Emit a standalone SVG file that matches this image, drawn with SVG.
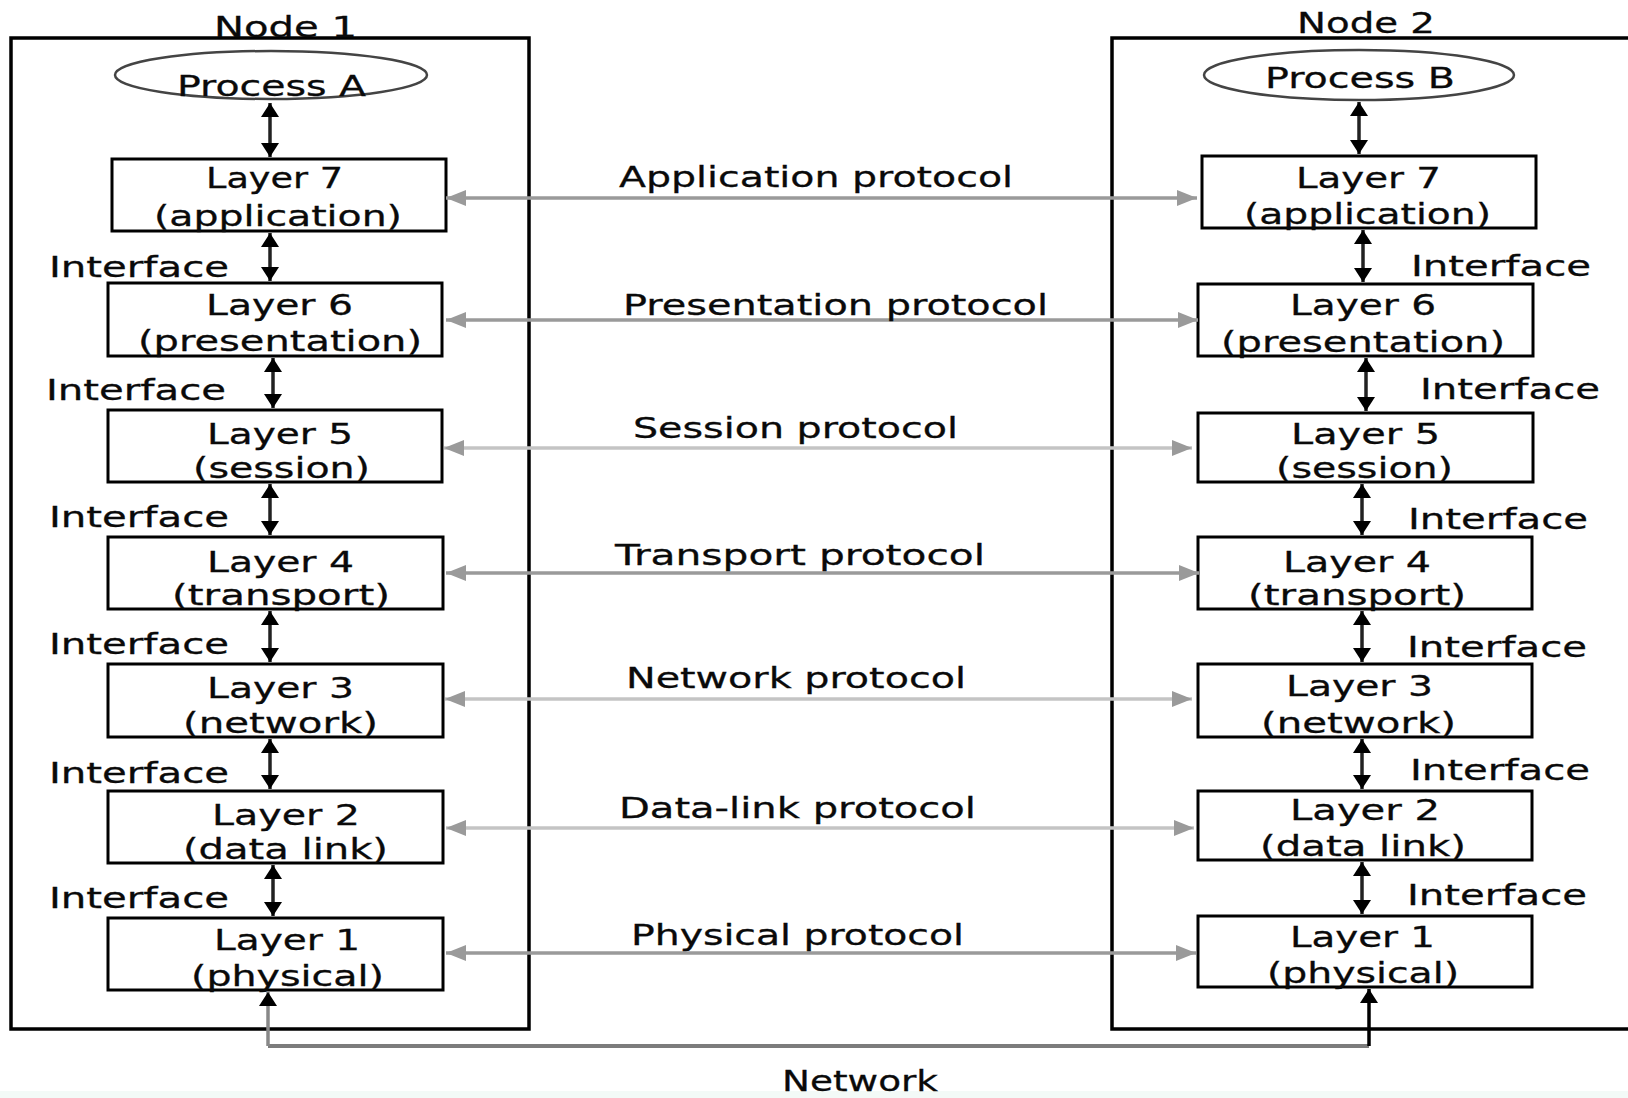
<svg xmlns="http://www.w3.org/2000/svg" width="1628" height="1098" viewBox="0 0 1628 1098">
  <style>
    text { font-family: "DejaVu Sans", Verdana, sans-serif; font-size: 29px; fill: #0a0a0a; stroke: #0a0a0a; stroke-width: 0.3; }
    .node { fill: none; stroke: #000; stroke-width: 3.5; }
    .layer { fill: #fff; stroke: #000; stroke-width: 3; }
    .proc { fill: #fff; stroke: #444; stroke-width: 2.5; }
    .iface { stroke: #222; stroke-width: 3.5; fill: none; marker-start: url(#blackHead); marker-end: url(#blackHead); }
    .proto { stroke: #9a9a9a; stroke-width: 3.5; fill: none; marker-start: url(#grayHead); marker-end: url(#grayHead); }
    .light { stroke: #c4c4c4; }
    .net { stroke: #7c7c7c; stroke-width: 4; fill: none; }
  </style>
  <defs>
    <marker id="blackHead" markerUnits="userSpaceOnUse" viewBox="0 0 14 18" markerWidth="14" markerHeight="18" refX="14" refY="9" orient="auto-start-reverse">
      <path d="M0,0 L14,9 L0,18 z" fill="#000"/>
    </marker>
    <marker id="grayHead" markerUnits="userSpaceOnUse" viewBox="0 0 20 16" markerWidth="20" markerHeight="16" refX="20" refY="8" orient="auto-start-reverse">
      <path d="M0,0 L20,8 L0,16 z" fill="#9a9a9a"/>
    </marker>
    <marker id="upHead" markerUnits="userSpaceOnUse" viewBox="0 0 14 18" markerWidth="14" markerHeight="18" refX="14" refY="9" orient="auto">
      <path d="M0,0 L14,9 L0,18 z" fill="#000"/>
    </marker>
  </defs>

  <rect x="0" y="0" width="1628" height="1098" fill="#fff"/>
  <rect x="0" y="1091" width="1628" height="7" fill="#f3faf7"/>

  <!-- Host containers -->
  <g id="node1">
    <rect class="node" x="11" y="38" width="518" height="991"/>
    <text x="214" y="37" textLength="143" lengthAdjust="spacingAndGlyphs">Node 1</text>
  </g>
  <g id="node2">
    <rect class="node" x="1112" y="38" width="540" height="991"/>
    <text x="1297" y="33" textLength="138" lengthAdjust="spacingAndGlyphs">Node 2</text>
  </g>

  <!-- Processes -->
  <g id="processA">
    <ellipse class="proc" cx="271" cy="75" rx="156" ry="24"/>
    <text x="177" y="96" textLength="189" lengthAdjust="spacingAndGlyphs">Process A</text>
  </g>
  <g id="processB">
    <ellipse class="proc" cx="1359" cy="75" rx="155" ry="25"/>
    <text x="1265" y="88" textLength="190" lengthAdjust="spacingAndGlyphs">Process B</text>
  </g>

  <!-- Node 1 stack -->
  <g id="n1-layer7">
    <rect class="layer" x="112" y="159" width="334" height="72"/>
    <text x="206" y="188" textLength="137" lengthAdjust="spacingAndGlyphs">Layer 7</text>
    <text x="154" y="226" textLength="248" lengthAdjust="spacingAndGlyphs">(application)</text>
  </g>
  <g id="n1-layer6">
    <rect class="layer" x="108" y="283" width="334" height="73"/>
    <text x="206" y="315" textLength="147" lengthAdjust="spacingAndGlyphs">Layer 6</text>
    <text x="138" y="351" textLength="284" lengthAdjust="spacingAndGlyphs">(presentation)</text>
  </g>
  <g id="n1-layer5">
    <rect class="layer" x="108" y="410" width="334" height="72"/>
    <text x="207" y="444" textLength="146" lengthAdjust="spacingAndGlyphs">Layer 5</text>
    <text x="193" y="478" textLength="177" lengthAdjust="spacingAndGlyphs">(session)</text>
  </g>
  <g id="n1-layer4">
    <rect class="layer" x="108" y="537" width="335" height="72"/>
    <text x="207" y="572" textLength="147" lengthAdjust="spacingAndGlyphs">Layer 4</text>
    <text x="172" y="605" textLength="218" lengthAdjust="spacingAndGlyphs">(transport)</text>
  </g>
  <g id="n1-layer3">
    <rect class="layer" x="108" y="664" width="335" height="73"/>
    <text x="207" y="698" textLength="147" lengthAdjust="spacingAndGlyphs">Layer 3</text>
    <text x="183" y="733" textLength="195" lengthAdjust="spacingAndGlyphs">(network)</text>
  </g>
  <g id="n1-layer2">
    <rect class="layer" x="108" y="791" width="335" height="72"/>
    <text x="212" y="825" textLength="148" lengthAdjust="spacingAndGlyphs">Layer 2</text>
    <text x="183" y="859" textLength="205" lengthAdjust="spacingAndGlyphs">(data link)</text>
  </g>
  <g id="n1-layer1">
    <rect class="layer" x="108" y="918" width="335" height="72"/>
    <text x="214" y="950" textLength="146" lengthAdjust="spacingAndGlyphs">Layer 1</text>
    <text x="191" y="986" textLength="193" lengthAdjust="spacingAndGlyphs">(physical)</text>
  </g>

  <!-- Node 2 stack -->
  <g id="n2-layer7">
    <rect class="layer" x="1202" y="156" width="334" height="72"/>
    <text x="1296" y="188" textLength="145" lengthAdjust="spacingAndGlyphs">Layer 7</text>
    <text x="1244" y="224" textLength="247" lengthAdjust="spacingAndGlyphs">(application)</text>
  </g>
  <g id="n2-layer6">
    <rect class="layer" x="1198" y="284" width="335" height="72"/>
    <text x="1290" y="315" textLength="146" lengthAdjust="spacingAndGlyphs">Layer 6</text>
    <text x="1221" y="352" textLength="284" lengthAdjust="spacingAndGlyphs">(presentation)</text>
  </g>
  <g id="n2-layer5">
    <rect class="layer" x="1198" y="413" width="335" height="69"/>
    <text x="1291" y="444" textLength="149" lengthAdjust="spacingAndGlyphs">Layer 5</text>
    <text x="1276" y="478" textLength="177" lengthAdjust="spacingAndGlyphs">(session)</text>
  </g>
  <g id="n2-layer4">
    <rect class="layer" x="1198" y="537" width="334" height="72"/>
    <text x="1283" y="572" textLength="148" lengthAdjust="spacingAndGlyphs">Layer 4</text>
    <text x="1248" y="605" textLength="218" lengthAdjust="spacingAndGlyphs">(transport)</text>
  </g>
  <g id="n2-layer3">
    <rect class="layer" x="1198" y="664" width="334" height="73"/>
    <text x="1286" y="696" textLength="147" lengthAdjust="spacingAndGlyphs">Layer 3</text>
    <text x="1261" y="733" textLength="195" lengthAdjust="spacingAndGlyphs">(network)</text>
  </g>
  <g id="n2-layer2">
    <rect class="layer" x="1198" y="791" width="334" height="69"/>
    <text x="1290" y="820" textLength="150" lengthAdjust="spacingAndGlyphs">Layer 2</text>
    <text x="1260" y="856" textLength="206" lengthAdjust="spacingAndGlyphs">(data link)</text>
  </g>
  <g id="n2-layer1">
    <rect class="layer" x="1198" y="916" width="334" height="71"/>
    <text x="1290" y="947" textLength="145" lengthAdjust="spacingAndGlyphs">Layer 1</text>
    <text x="1267" y="983" textLength="192" lengthAdjust="spacingAndGlyphs">(physical)</text>
  </g>

  <!-- Connectors: interfaces, peer protocols, network link -->
  <g id="connectors">
    <!-- node 1 interfaces -->
    <line class="iface" x1="270" y1="103" x2="270" y2="157"/>
    <line class="iface" x1="270" y1="233" x2="270" y2="281"/>
    <line class="iface" x1="273" y1="358" x2="273" y2="408"/>
    <line class="iface" x1="270" y1="484" x2="270" y2="535"/>
    <line class="iface" x1="270" y1="611" x2="270" y2="662"/>
    <line class="iface" x1="270" y1="739" x2="270" y2="789"/>
    <line class="iface" x1="273" y1="865" x2="273" y2="916"/>
    <!-- node 2 interfaces -->
    <line class="iface" x1="1359" y1="102" x2="1359" y2="154"/>
    <line class="iface" x1="1363" y1="230" x2="1363" y2="282"/>
    <line class="iface" x1="1366" y1="358" x2="1366" y2="411"/>
    <line class="iface" x1="1362" y1="484" x2="1362" y2="535"/>
    <line class="iface" x1="1362" y1="611" x2="1362" y2="662"/>
    <line class="iface" x1="1362" y1="739" x2="1362" y2="789"/>
    <line class="iface" x1="1362" y1="862" x2="1362" y2="914"/>

    <!-- peer protocols -->
    <line class="proto" x1="446" y1="198" x2="1197" y2="198"/>
    <line class="proto" x1="446" y1="320" x2="1198" y2="320"/>
    <line class="proto light" x1="444" y1="448" x2="1192" y2="448"/>
    <line class="proto" x1="446" y1="573" x2="1199" y2="573"/>
    <line class="proto light" x1="445" y1="699" x2="1192" y2="699"/>
    <line class="proto light" x1="446" y1="828" x2="1194" y2="828"/>
    <line class="proto" x1="446" y1="953" x2="1196" y2="953"/>

    <!-- physical network link -->
    <path class="net" d="M268,1046 L1369,1046"/>
    <line x1="268" y1="1046" x2="268" y2="992" stroke="#888" stroke-width="3.5" marker-end="url(#upHead)"/>
    <line x1="1369" y1="1046" x2="1369" y2="989" stroke="#000" stroke-width="3.5" marker-end="url(#upHead)"/>
  </g>

  <!-- Interface labels -->
  <g id="interface-labels">
    <text x="49" y="277" textLength="180" lengthAdjust="spacingAndGlyphs">Interface</text>
    <text x="46" y="400" textLength="180" lengthAdjust="spacingAndGlyphs">Interface</text>
    <text x="49" y="527" textLength="180" lengthAdjust="spacingAndGlyphs">Interface</text>
    <text x="49" y="654" textLength="180" lengthAdjust="spacingAndGlyphs">Interface</text>
    <text x="49" y="783" textLength="180" lengthAdjust="spacingAndGlyphs">Interface</text>
    <text x="49" y="908" textLength="180" lengthAdjust="spacingAndGlyphs">Interface</text>
    <text x="1411" y="276" textLength="180" lengthAdjust="spacingAndGlyphs">Interface</text>
    <text x="1420" y="399" textLength="180" lengthAdjust="spacingAndGlyphs">Interface</text>
    <text x="1408" y="529" textLength="180" lengthAdjust="spacingAndGlyphs">Interface</text>
    <text x="1407" y="657" textLength="180" lengthAdjust="spacingAndGlyphs">Interface</text>
    <text x="1410" y="780" textLength="180" lengthAdjust="spacingAndGlyphs">Interface</text>
    <text x="1407" y="905" textLength="180" lengthAdjust="spacingAndGlyphs">Interface</text>
  </g>

  <!-- Protocol labels -->
  <g id="protocol-labels">
    <text x="619" y="187" textLength="394" lengthAdjust="spacingAndGlyphs">Application protocol</text>
    <text x="623" y="315" textLength="425" lengthAdjust="spacingAndGlyphs">Presentation protocol</text>
    <text x="633" y="438" textLength="325" lengthAdjust="spacingAndGlyphs">Session protocol</text>
    <text x="615" y="565" textLength="370" lengthAdjust="spacingAndGlyphs">Transport protocol</text>
    <text x="626" y="688" textLength="340" lengthAdjust="spacingAndGlyphs">Network protocol</text>
    <text x="619" y="818" textLength="357" lengthAdjust="spacingAndGlyphs">Data-link protocol</text>
    <text x="631" y="945" textLength="333" lengthAdjust="spacingAndGlyphs">Physical protocol</text>
    <text x="782" y="1091" textLength="156" lengthAdjust="spacingAndGlyphs">Network</text>
  </g>
</svg>
